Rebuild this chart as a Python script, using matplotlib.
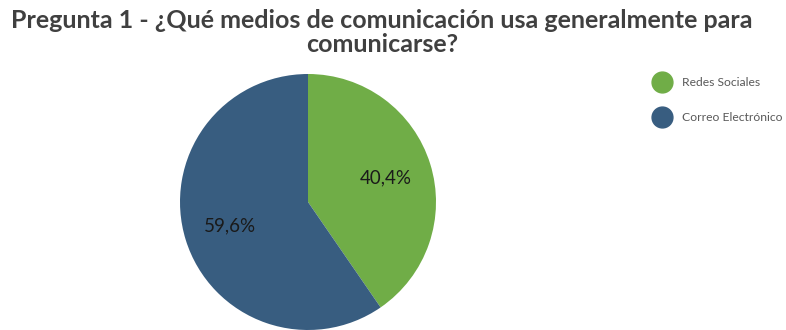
import matplotlib.pyplot as plt
from matplotlib.lines import Line2D

titulo = 'Pregunta 1 - ¿Qué medios de comunicación usa generalmente para\ncomunicarse?'
categorias = ['Redes Sociales', 'Correo Electrónico']
porcentajes = [40.4, 59.6]
colores = ['#70AD47', '#385D80']

plt.rcParams['font.family'] = ['Lato', 'DejaVu Sans']

fig = plt.figure(figsize=(7.86, 3.30), dpi=100)
fig.patch.set_facecolor('white')

ax = fig.add_axes([180 / 786, 0, 256 / 786, 256 / 330])
wedges, textos, pcts = ax.pie(
    porcentajes, colors=colores, startangle=90, counterclock=False,
    autopct=lambda p: ('%.1f%%' % p).replace('.', ','),
    pctdistance=0.64, radius=1,
    wedgeprops={'linewidth': 0},
    textprops={'fontsize': 13.5, 'color': '#1a1a1a'})
ax.set_xlim(-1, 1)
ax.set_ylim(-1, 1)
ax.set_aspect('equal')

fig.text(382 / 786, 0.972, titulo, ha='center', va='top',
         fontsize=18, fontweight='bold', color='#404040', linespacing=1.06)

handles = [Line2D([], [], marker='o', linestyle='none', markersize=15,
                  markerfacecolor=c, markeredgecolor=c) for c in colores]
fig.legend(handles, categorias, loc='upper left',
           bbox_to_anchor=(645 / 786, 1 - 72 / 330), frameon=False,
           fontsize=8.7, labelcolor='#595959', labelspacing=2.0,
           handletextpad=0.7, borderaxespad=0)

fig.savefig('out.png', dpi=100)
